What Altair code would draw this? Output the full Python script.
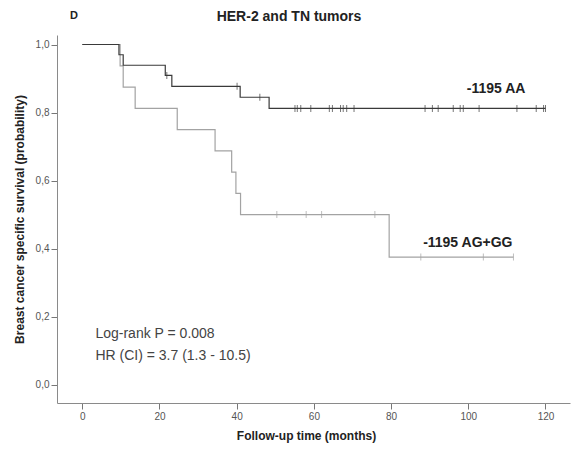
import altair as alt
import pandas as pd

# Kaplan-Meier data
aa_event_times = [9.5, 10.6, 21.5, 23.2, 40.9, 48.4]
aa_levels = [0.970, 0.939, 0.909, 0.877, 0.845, 0.812]
aa_censor = [21.9, 40.1, 46.0, 55.1, 55.7, 56.6, 59.2, 64.0, 64.8, 66.9, 67.6,
             68.5, 70.4, 88.8, 90.7, 92.2, 96.1, 97.9, 98.7, 102.8, 112.6,
             117.6, 119.5, 120.0]
aa_end = 120.0

ag_event_times = [9.8, 10.6, 13.7, 24.6, 34.4, 38.7, 39.8, 41.0, 79.5]
ag_levels = [0.9375, 0.875, 0.8125, 0.75, 0.6875, 0.625, 0.5625, 0.5, 0.375]
ag_censor = [50.4, 58.0, 62.0, 75.8, 87.7, 103.9, 111.7]
ag_end = 111.7

x_ticks = [0, 20, 40, 60, 80, 100, 120]
y_ticks = [0.0, 0.2, 0.4, 0.6, 0.8, 1.0]

groups = ["AG", "AA"]
colors = ["#a3a3a3", "#3a3a3a"]


def steps(name, times, levels, end):
    rows = [{"group": name, "t": 0.0, "s": 1.0, "i": 0}]
    for k, (t, s) in enumerate(zip(times, levels)):
        rows.append({"group": name, "t": t, "s": s, "i": k + 1})
    rows.append({"group": name, "t": end, "s": levels[-1], "i": len(times) + 1})
    return rows


def surv_at(t, times, levels):
    s = 1.0
    for tt, ll in zip(times, levels):
        if tt <= t:
            s = ll
    return s


line_df = pd.DataFrame(steps("AG", ag_event_times, ag_levels, ag_end)
                       + steps("AA", aa_event_times, aa_levels, aa_end))
cens_df = pd.DataFrame(
    [{"group": "AG", "t": t, "s": surv_at(t, ag_event_times, ag_levels)} for t in ag_censor]
    + [{"group": "AA", "t": t, "s": surv_at(t, aa_event_times, aa_levels)} for t in aa_censor]
)

FONT = "Liberation Sans"

xscale = alt.Scale(domain=[-6.55, 126.35], nice=False, zero=False)
yscale = alt.Scale(domain=[-0.054, 1.028], nice=False, zero=False)
cscale = alt.Scale(domain=groups, range=colors)

xaxis = alt.Axis(values=x_ticks, title="Follow-up time (months)", grid=False,
                 titleX=249, titlePadding=9)
yaxis = alt.Axis(values=y_ticks, title="Breast cancer specific survival (probability)",
                 grid=False, labelExpr="replace(format(datum.value, '.1f'), '.', ',')",
                 titlePadding=9)

lines = alt.Chart(line_df).mark_line(interpolate="step-after", strokeWidth=1.2).encode(
    x=alt.X("t:Q", scale=xscale, axis=xaxis),
    y=alt.Y("s:Q", scale=yscale, axis=yaxis),
    color=alt.Color("group:N", scale=cscale, legend=None),
    order="i:Q",
)

cens = alt.Chart(cens_df).mark_tick(orient="vertical", size=7, thickness=1).encode(
    x="t:Q", y="s:Q",
    color=alt.Color("group:N", scale=cscale, legend=None),
)

base_txt = alt.Chart(pd.DataFrame({"a": [0]}))

lab_aa = base_txt.mark_text(align="left", baseline="alphabetic", font=FONT,
                            fontSize=14, fontWeight="bold", color="#222").encode(
    x=alt.datum(99.6), y=alt.datum(0.857), text=alt.value("-1195 AA"))
lab_ag = base_txt.mark_text(align="left", baseline="alphabetic", font=FONT,
                            fontSize=14, fontWeight="bold", color="#222").encode(
    x=alt.datum(88.3), y=alt.datum(0.405), text=alt.value("-1195 AG+GG"))
lab_p = base_txt.mark_text(align="left", baseline="alphabetic", font=FONT,
                           fontSize=14, color="#444").encode(
    x=alt.datum(3.4), y=alt.datum(0.137), text=alt.value("Log-rank P = 0.008"))
lab_hr = base_txt.mark_text(align="left", baseline="alphabetic", font=FONT,
                            fontSize=14, color="#444").encode(
    x=alt.datum(3.4), y=alt.datum(0.0725), text=alt.value("HR (CI) = 3.7 (1.3 - 10.5)"))
lab_d = base_txt.mark_text(align="left", baseline="alphabetic", font=FONT,
                           fontSize=11, fontWeight="bold", color="#222").encode(
    x=alt.value(13), y=alt.value(-16), text=alt.value("D"))
lab_title = base_txt.mark_text(align="center", baseline="alphabetic", font=FONT,
                               fontSize=14, fontWeight="bold", color="#222").encode(
    x=alt.value(232), y=alt.value(-14.5), text=alt.value("HER-2 and TN tumors"))

chart = alt.layer(lines, cens, lab_aa, lab_ag, lab_p, lab_hr, lab_d, lab_title).properties(
    width=513, height=368,
    autosize=alt.AutoSizeParams(type="none"),
    padding={"left": 57, "top": 35, "right": 3, "bottom": 51},
).configure_view(stroke=None).configure_axis(
    labelFont=FONT, labelFontSize=10, labelColor="#555", labelPadding=2,
    titleFont=FONT, titleFontSize=12, titleFontWeight="bold", titleColor="#222",
    domainColor="#8a8a8a", tickColor="#777", tickSize=6,
)

chart.save("out.html", embed_options={"renderer": "svg", "actions": False})
